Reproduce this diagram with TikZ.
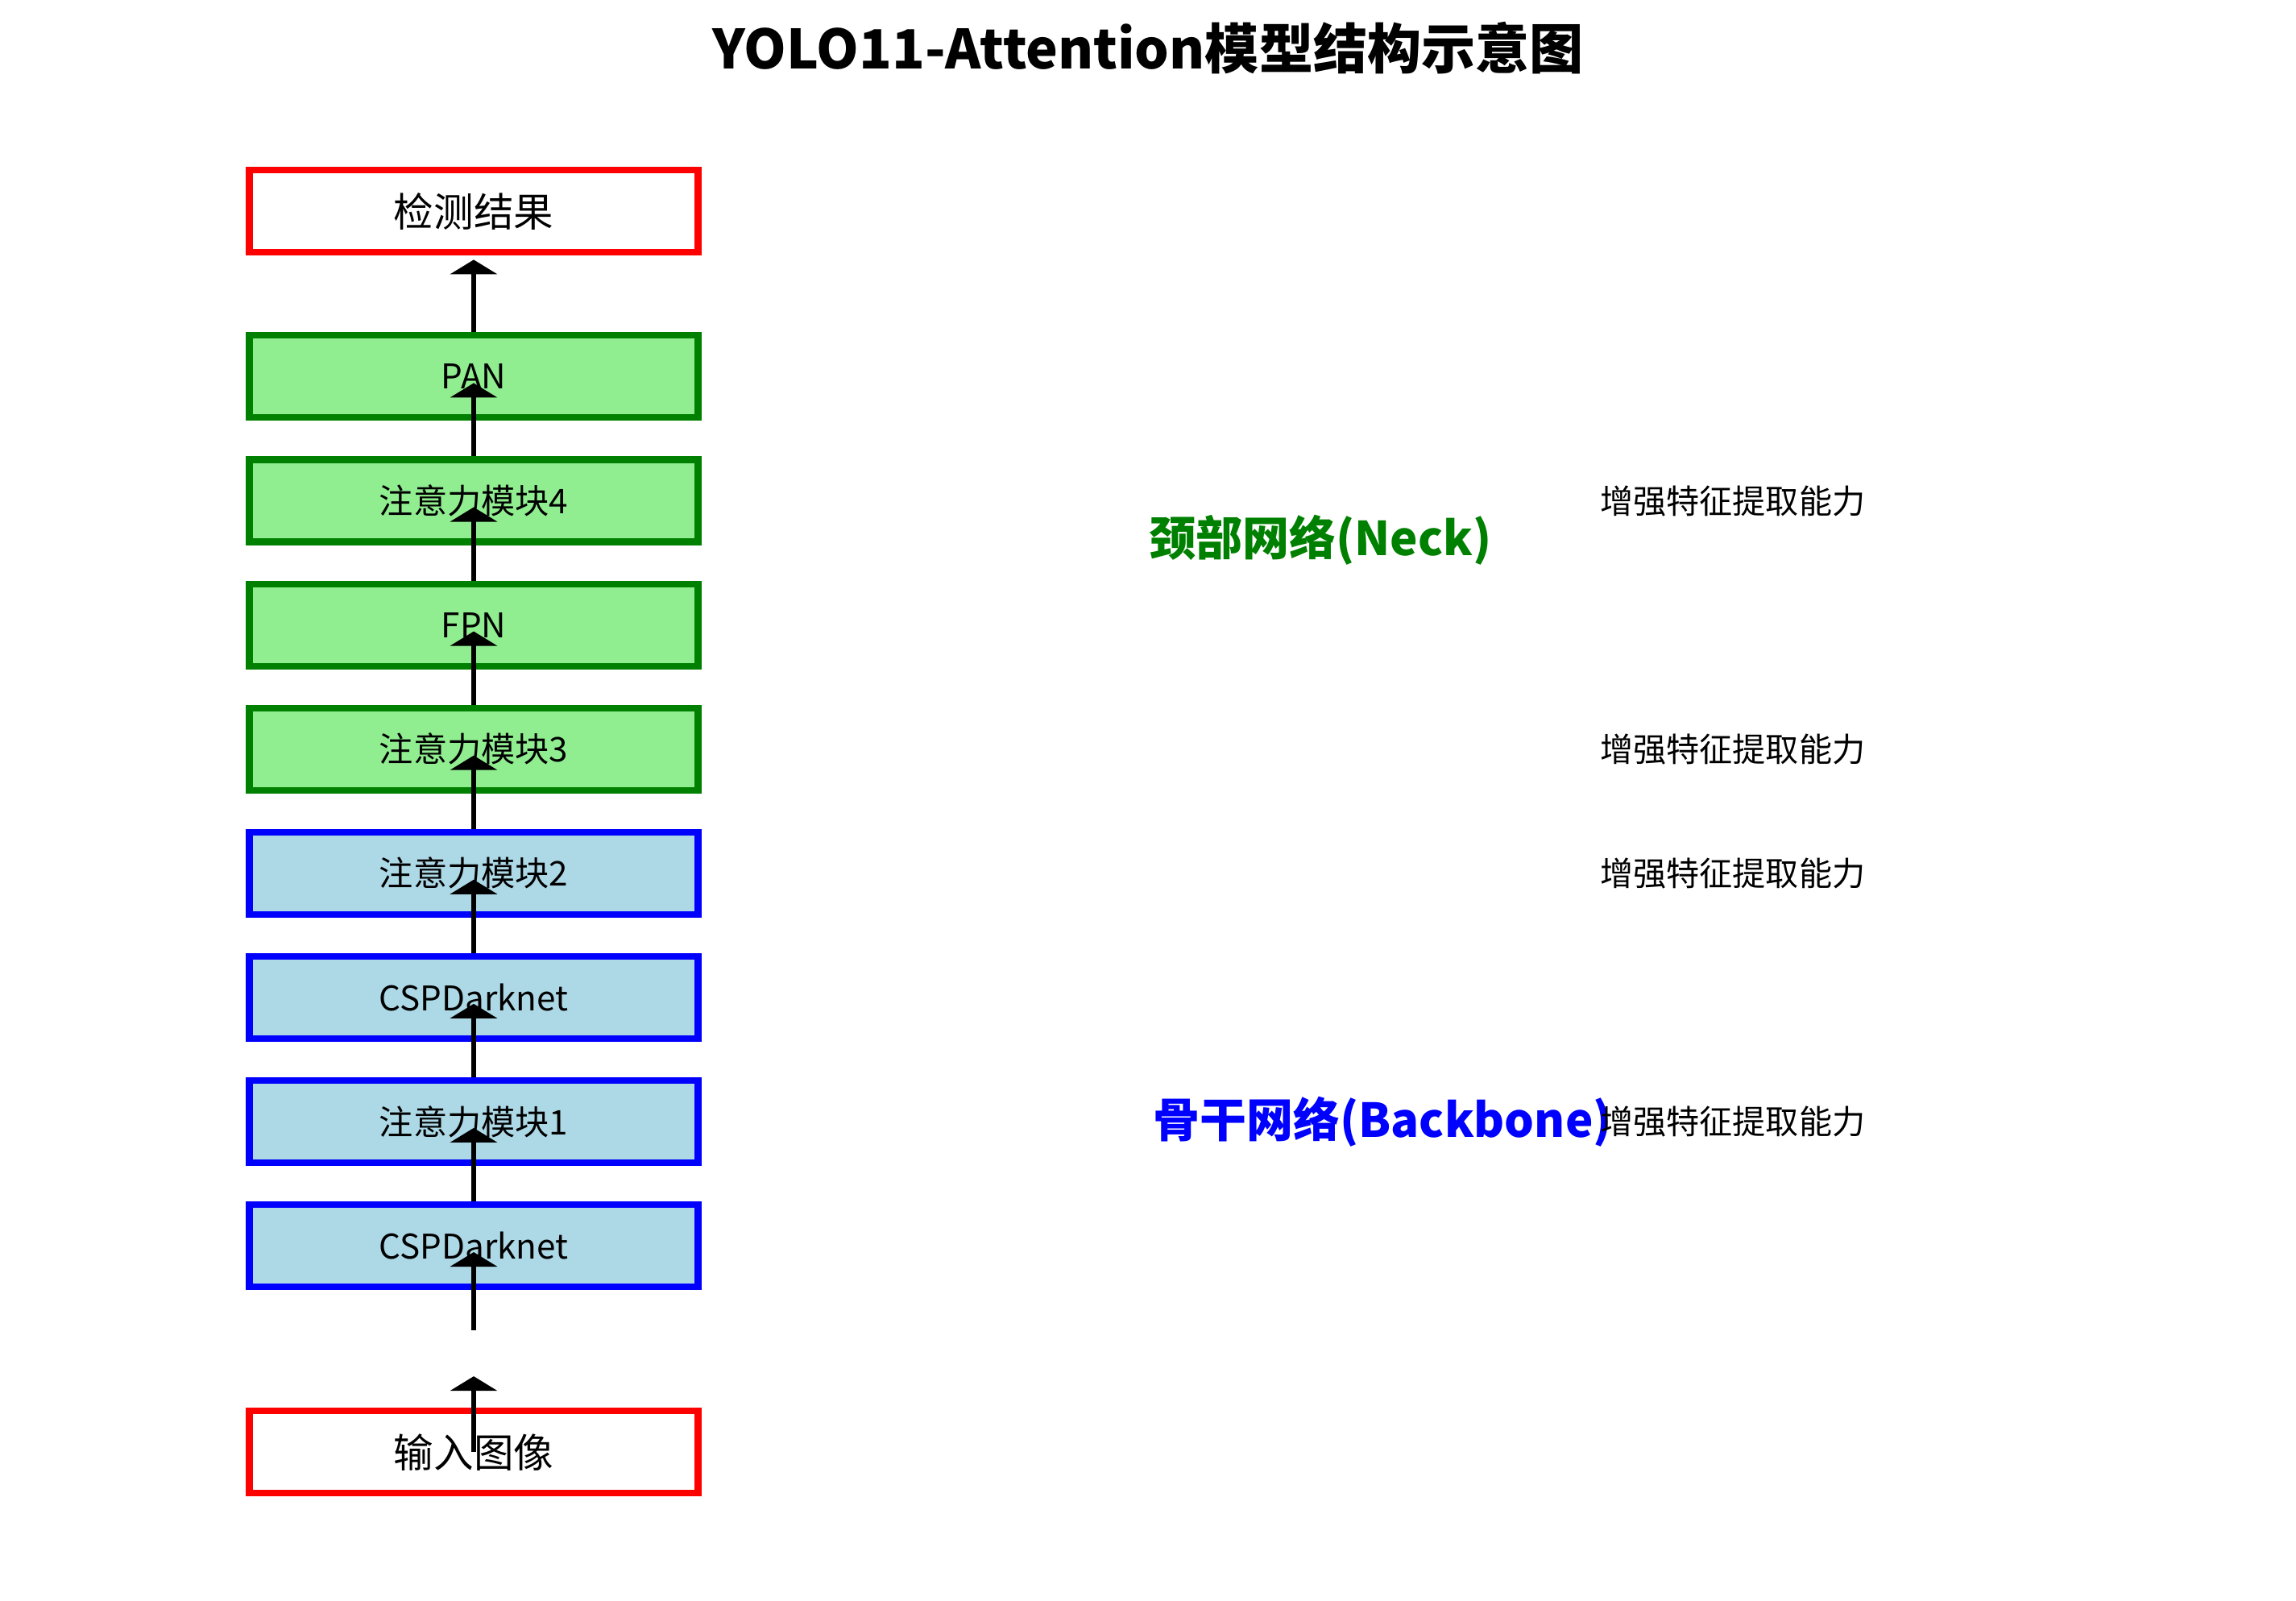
\documentclass[tikz,border=0pt]{standalone}
\usepackage{fontspec}
\setmainfont{Noto Sans CJK SC}
\usepackage{tikz}
\usetikzlibrary{positioning, calc, arrows.meta}
\usepackage{xcolor}
\definecolor{outred}{RGB}{255,0,0}
\definecolor{neckline}{RGB}{0,128,0}
\definecolor{neckfill}{RGB}{144,238,144}
\definecolor{backline}{RGB}{0,0,255}
\definecolor{backfill}{RGB}{173,216,230}

\begin{document}
\begin{tikzpicture}[
  node distance=0.44cm,
  block/.style={draw, line width=2.3pt, minimum width=5.57cm, minimum height=1.02cm,
    inner sep=0pt, font=\fontsize{12}{14}\selectfont},
  iobox/.style={block, draw=outred, fill=white, font=\fontsize{14.1}{16}\selectfont},
  neckbox/.style={block, draw=neckline, fill=neckfill},
  backbox/.style={block, draw=backline, fill=backfill},
  flow/.style={-{Triangle[width=5.8mm, length=1.8mm]}, line width=1.7pt, black},
  part/.style={font=\fontsize{16.5}{19}\bfseries\selectfont, inner sep=0pt, anchor=west},
  note/.style={font=\fontsize{11.7}{14}\selectfont, inner sep=0pt, anchor=west}
]
  \useasboundingbox (0,0) rectangle (28.5,-19.86);

  \node[font=\fontsize{19.1}{22}\bfseries\selectfont] (title) at (14.25,-0.60)
    {YOLO11-Attention模型结构示意图};

  % backbone, bottom up
  \node[backbox] (cspa) at (5.88,-15.46) {CSPDarknet};
  \node[backbox, above=of cspa] (att1) {注意力模块1};
  \node[backbox, above=of att1] (cspb) {CSPDarknet};
  \node[backbox, above=of cspb] (att2) {注意力模块2};

  % neck
  \node[neckbox, above=of att2] (att3) {注意力模块3};
  \node[neckbox, above=of att3] (fpn) {FPN};
  \node[neckbox, above=of fpn] (att4) {注意力模块4};
  \node[neckbox, above=of att4] (pan) {PAN};

  % input and output
  \node[iobox, above=0.95 of pan] (det) {检测结果};
  \node[iobox, below=1.46 of cspa] (inp) {输入图像};

  % loose arrow ends near the input
  \coordinate (gapa) at ([yshift=-1.05cm]cspa.center);
  \coordinate (gapb) at ([yshift=0.94cm]inp.center);

  \draw[flow] (inp.center) -- (gapb);
  \draw[flow] (gapa) -- ([yshift=-0.08cm]cspa.center);
  \draw[flow] (att1.north) -- ([yshift=-0.08cm]cspb.center);
  \draw[flow] (cspa.north) -- ([yshift=-0.08cm]att1.center);
  \draw[flow] (cspb.north) -- ([yshift=-0.08cm]att2.center);
  \draw[flow] (att2.north) -- ([yshift=-0.08cm]att3.center);
  \draw[flow] (att3.north) -- ([yshift=-0.08cm]fpn.center);
  \draw[flow] (fpn.north) -- ([yshift=-0.08cm]att4.center);
  \draw[flow] (att4.north) -- ([yshift=-0.08cm]pan.center);
  \draw[flow] (pan.north) -- ([yshift=-0.05cm]det.south);

  % section labels
  \node[part, text=neckline, right=5.55 of att4, yshift=-0.49cm] (neck) {颈部网络(Neck)};
  \node[part, text=backline, right=5.60 of att1] (back) {骨干网络(Backbone)};

  % notes beside the attention blocks
  \node[note, right=11.15 of att4] (n4) {增强特征提取能力};
  \node[note, right=11.15 of att3] (n3) {增强特征提取能力};
  \node[note, right=11.15 of att2] (n2) {增强特征提取能力};
  \node[note, right=11.15 of att1] (n1) {增强特征提取能力};
\end{tikzpicture}
\end{document}
